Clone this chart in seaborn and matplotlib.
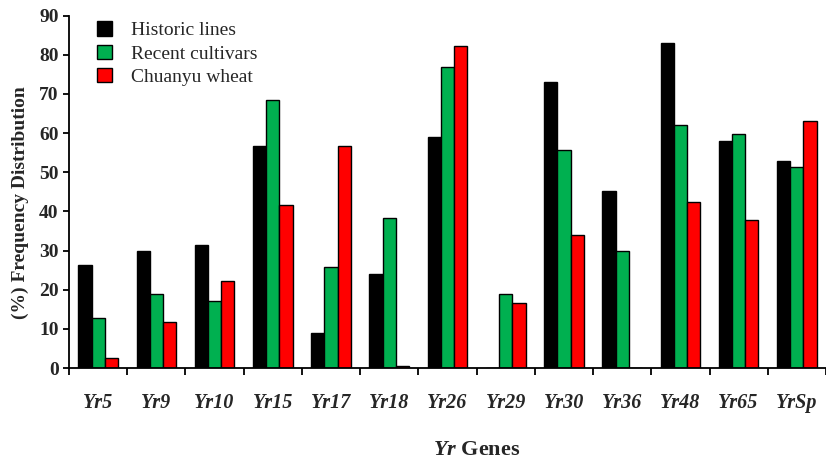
import numpy as np
import pandas as pd
import seaborn as sns
import matplotlib.pyplot as plt

# Yr gene frequencies (%) in three wheat germplasm groups
genes = ["Yr5", "Yr9", "Yr10", "Yr15", "Yr17", "Yr18", "Yr26",
         "Yr29", "Yr30", "Yr36", "Yr48", "Yr65", "YrSp"]
historic = [26.3, 30.0, 31.3, 56.6, 8.9, 23.9, 59.0, 0.0, 73.0, 45.3, 83.0, 57.9, 52.9]
recent = [12.7, 19.0, 17.0, 68.4, 25.7, 38.4, 76.8, 19.0, 55.6, 29.9, 62.0, 59.8, 51.3]
chuanyu = [2.6, 11.7, 22.2, 41.7, 56.6, 0.6, 82.2, 16.7, 34.0, 0.0, 42.5, 37.9, 63.2]
groups = ["Historic lines", "Recent cultivars", "Chuanyu wheat"]
colors = ["#000000", "#00B050", "#FF0000"]

df = pd.DataFrame({
    "gene": genes * 3,
    "freq": historic + recent + chuanyu,
    "group": [g for g in groups for _ in genes],
})

sns.set_theme(style="ticks")
plt.rcParams["font.family"] = ["Liberation Serif", "DejaVu Serif"]
plt.rcParams["mathtext.fontset"] = "custom"
plt.rcParams["mathtext.it"] = "Liberation Serif:italic:bold"
plt.rcParams["mathtext.rm"] = "Liberation Serif:bold"

W, H = 826, 461
fig = plt.figure(figsize=(W / 100, H / 100), dpi=100)
ax = fig.add_axes([69 / W, 93 / H, 757 / W, 352.3 / H])

sns.barplot(data=df, x="gene", y="freq", hue="group", hue_order=groups,
            palette=dict(zip(groups, colors)), width=0.68, gap=0,
            saturation=1, edgecolor="black", linewidth=1.0, ax=ax)

ax.set_xlim(-0.5, 12.33)
ax.set_ylim(0, 90)
ax.set_yticks(np.arange(0, 91, 10))
for lbl in ax.get_yticklabels():
    lbl.set_fontweight("bold")
    lbl.set_fontsize(14)

ax.set_xticks(range(len(genes)))
ax.set_xticklabels(genes, fontsize=14.5, fontweight="bold", fontstyle="italic")
ax.set_xticks(np.arange(-0.5, len(genes), 1), minor=True)
ax.tick_params(axis="x", which="major", length=0, pad=18)
ax.tick_params(axis="x", which="minor", length=5, width=1.3, direction="out", color="black")
ax.tick_params(axis="y", which="major", length=4.5, width=1.3, direction="out", pad=3, color="black")

sns.despine(ax=ax)
for side in ("left", "bottom"):
    ax.spines[side].set_linewidth(1.3)
    ax.spines[side].set_color("black")

ax.set_ylabel("(%) Frequency Distribution", fontsize=14, fontweight="bold")
ax.yaxis.set_label_coords(-0.053, 0.47)
ax.set_xlabel(r"$\mathit{Yr}$ Genes", fontsize=16, fontweight="bold", va="center")
ax.xaxis.set_label_coords(0.539, -0.232)

ax.legend(handles=ax.containers, labels=groups, loc="upper left",
          bbox_to_anchor=(97 / W, 1 - 21.5 / H), bbox_transform=fig.transFigure,
          frameon=False, fontsize=14, handlelength=0.78, handleheight=0.75,
          handletextpad=0.95, labelspacing=0.28, borderpad=0, borderaxespad=0)

fig.savefig("out.png", dpi=100)
